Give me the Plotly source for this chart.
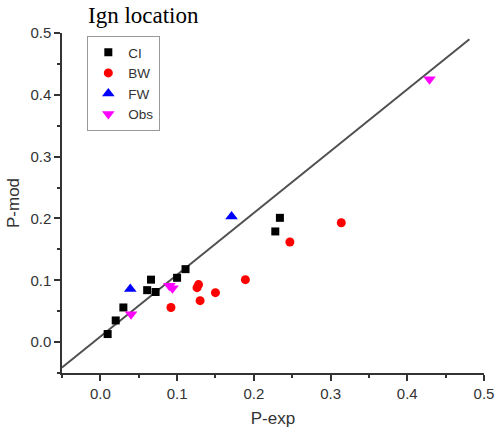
import plotly.graph_objects as go

ci_x = [0.0095, 0.020, 0.030, 0.061, 0.066, 0.072, 0.100, 0.111, 0.234, 0.228]
ci_y = [0.013, 0.035, 0.056, 0.084, 0.101, 0.081, 0.104, 0.118, 0.201, 0.179]

bw_x = [0.092, 0.126, 0.128, 0.130, 0.150, 0.189, 0.247, 0.314]
bw_y = [0.056, 0.088, 0.093, 0.067, 0.080, 0.101, 0.162, 0.193]

fw_x = [0.039, 0.171]
fw_y = [0.086, 0.203]

obs_x = [0.040, 0.090, 0.094, 0.429]
obs_y = [0.045, 0.091, 0.087, 0.425]

fit_x = [-0.05, 0.481]
fit_y = [-0.041, 0.490]

fig = go.Figure()
fig.add_trace(go.Scatter(x=fit_x, y=fit_y, mode="lines",
                         line=dict(color="#505050", width=2), showlegend=False))
fig.add_trace(go.Scatter(x=ci_x, y=ci_y, mode="markers", name="CI",
                         marker=dict(symbol="square", size=8, color="black")))
fig.add_trace(go.Scatter(x=bw_x, y=bw_y, mode="markers", name="BW",
                         marker=dict(symbol="circle", size=9, color="red")))
fig.add_trace(go.Scatter(x=fw_x, y=fw_y, mode="markers", name="FW",
                         marker=dict(symbol="triangle-up", size=11, color="blue")))
fig.add_trace(go.Scatter(x=obs_x, y=obs_y, mode="markers", name="Obs",
                         marker=dict(symbol="triangle-down", size=11, color="magenta")))

axis_common = dict(
    showgrid=False, zeroline=False, showline=True, linecolor="#333", linewidth=1.5,
    ticks="outside", ticklen=6, tickwidth=1.5, tickcolor="#333", automargin=False,
    tickfont=dict(family="Liberation Sans, Arial", size=15, color="#333"),
    tickformat=".1f", dtick=0.1, tick0=0,
    minor=dict(dtick=0.05, ticks="outside", ticklen=3, tickwidth=1.5, tickcolor="#333"),
)

fig.update_xaxes(range=[-0.05, 0.5], title=dict(text="P-exp", standoff=14,
                 font=dict(family="Liberation Sans, Arial", size=17, color="#333")),
                 **axis_common)
fig.update_yaxes(range=[-0.05, 0.5], title=dict(text="P-mod", standoff=6,
                 font=dict(family="Liberation Sans, Arial", size=17, color="#333")),
                 **axis_common)

fig.add_annotation(text="Ign location", xref="paper", yref="paper",
                   x=(143 - 61.5) / 423, y=(373 - 16) / 340, xanchor="center", yanchor="middle",
                   showarrow=False,
                   font=dict(family="Liberation Serif, Times New Roman", size=23, color="black"))

fig.update_layout(
    width=495, height=428,
    margin=dict(l=61.5, r=10.5, t=33, b=55),
    paper_bgcolor="white", plot_bgcolor="white",
    legend=dict(x=0.06, y=0.991, xanchor="left", yanchor="top",
                bgcolor="white", bordercolor="#999", borderwidth=1,
                font=dict(family="Liberation Sans, Arial", size=13.5, color="#333"),
                tracegroupgap=0, itemwidth=30),
)

fig.write_html("out.html", config={"displayModeBar": False},
               post_script="document.body.style.margin='0';")
